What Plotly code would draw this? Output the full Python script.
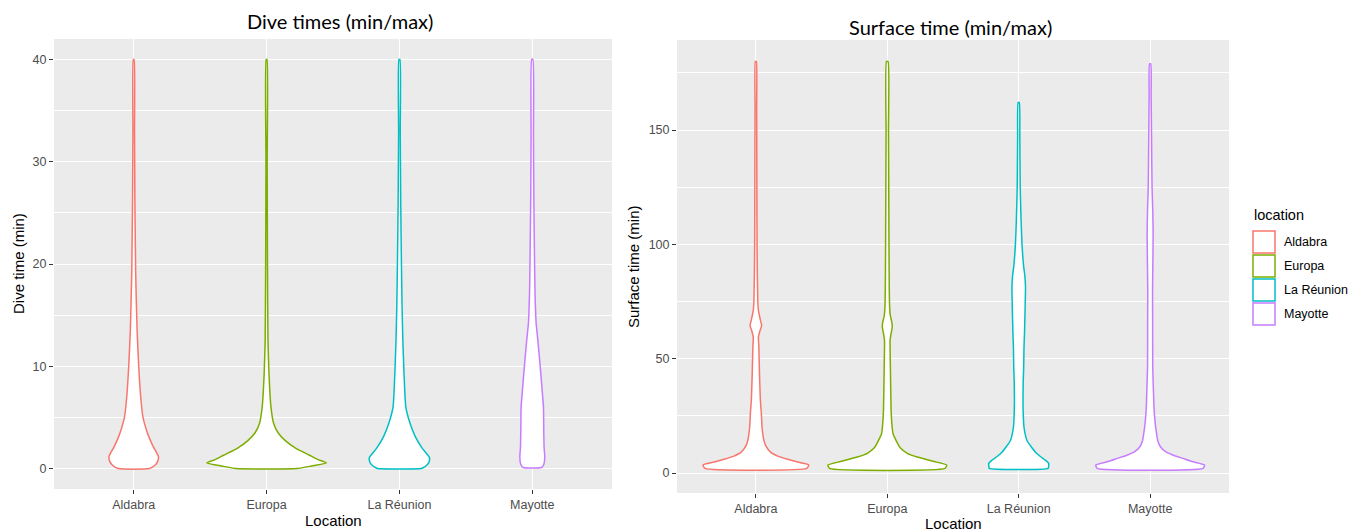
import plotly.graph_objects as go

# ---------------- data ----------------
locations = ["Aldabra", "Europa", "La Réunion", "Mayotte"]
colors = ["#F8766D", "#7CAE00", "#00BFC4", "#C77CFF"]
positions = [1, 2, 3, 4]

dive_ticks = [0, 10, 20, 30, 40]
surface_ticks = [0, 50, 100, 150]

# Violin outlines: value levels and scaled density (half-width)
dive_aldabra_y = [0, 0.3, 0.7, 1.2, 2.1, 2.9, 3.75, 5.0, 7.0, 10, 13.5, 19, 26, 33, 40]
dive_aldabra_d = [15.6, 21, 24, 24.7, 19.8, 16, 12.8, 9.3, 7, 5, 3.4, 2, 1.2, 0.8, 0.4]

dive_europa_y = [0, 0.25, 0.55, 0.9, 1.3, 2.0, 2.7, 3.5, 4.4, 6, 9.3, 12.6, 20, 30, 40]
dive_europa_d = [30.5, 45, 60, 51, 43, 29, 19, 11.5, 7.1, 4.4, 2.4, 1.4, 0.9, 0.6, 0.4]

dive_reunion_y = [0, 0.1, 0.3, 0.6, 1.1, 1.95, 3.1, 4.4, 6.0, 9.3, 12.6, 16, 20, 26, 33, 40]
dive_reunion_d = [21.8, 24, 27, 29.5, 30, 23.1, 16, 10.7, 6.4, 4.6, 3.4, 2.6, 2, 1.3, 0.8, 0.5]

dive_mayotte_y = [0.1, 0.4, 1.1, 2.1, 3.7, 6, 7.5, 9.3, 11, 12.6, 14.3, 17, 19.3, 26, 32.5, 40]
dive_mayotte_d = [9.1, 11.5, 12.5, 11.8, 11.5, 11.2, 10, 8.5, 7, 5.5, 3.8, 2.8, 2.4, 1.6, 1.2, 0.6]

surf_aldabra_y = [2.0, 3.5, 5.0, 6.0, 7.4, 9, 11.9, 14.4, 20, 26, 32, 44, 55, 59.5, 62, 64.5, 67, 71, 76, 90, 100, 130, 160, 180]
surf_aldabra_d = [51, 53, 40, 32, 22, 15, 10, 8, 6.2, 5.5, 4.5, 3.6, 3, 2.6, 4, 5.8, 4.5, 2.6, 1.9, 1.4, 1.2, 1.0, 0.8, 0.5]

surf_europa_y = [2.0, 3.5, 5.0, 5.7, 7, 8.6, 11, 13, 17.3, 22, 27.5, 46.5, 58, 61, 64, 66, 69, 72, 80, 100, 130, 150, 180]
surf_europa_d = [57.8, 59.5, 47, 41, 30, 20, 13, 10.3, 5.7, 4.5, 3.8, 3.1, 2.8, 3.8, 5.0, 4.5, 3, 2.4, 2.0, 1.7, 1.4, 1.2, 0.8]

surf_reunion_y = [2, 3, 4.2, 5.5, 7.1, 9, 11.5, 14, 16, 20, 25, 32, 40, 46.5, 55, 61, 70, 76, 81, 86, 91, 100, 110, 125, 147, 162]
surf_reunion_d = [29.5, 30, 30, 27, 22, 17, 12.5, 8.5, 7, 5.3, 4.6, 4.3, 4.5, 5, 5.3, 5.8, 6.3, 6.6, 6.8, 6.2, 4.8, 3.3, 2.4, 1.5, 1.1, 0.6]

surf_mayotte_y = [2, 3.5, 5, 6.4, 8, 9.3, 11.5, 14, 17.3, 22, 29, 32, 46, 65, 80, 95, 105, 115, 125, 147, 165, 179]
surf_mayotte_d = [53, 54.5, 42, 32.8, 22, 15.5, 10.3, 7.7, 6.4, 5, 3.8, 3.6, 2.6, 2.5, 2.4, 2.8, 3.0, 2.6, 1.9, 1.4, 1.0, 0.6]

dive_levels = [dive_aldabra_y, dive_europa_y, dive_reunion_y, dive_mayotte_y]
dive_density = [dive_aldabra_d, dive_europa_d, dive_reunion_d, dive_mayotte_d]
surf_levels = [surf_aldabra_y, surf_europa_y, surf_reunion_y, surf_mayotte_y]
surf_density = [surf_aldabra_d, surf_europa_d, surf_reunion_d, surf_mayotte_d]

# density -> x-axis units (category spacing)
DIVE_SCALE = 1 / 133.0
SURF_SCALE = 1 / 131.7

# ---------------- figure ----------------
W, H = 1367, 532
PAGE_OFFSET = 8  # default body margin of the html page


def px(xp, yp):
    """reference pixel position -> paper coordinates"""
    return (xp - PAGE_OFFSET) / W, 1 - (yp - PAGE_OFFSET) / H


def xdom(a, b):
    return [px(a, 0)[0], px(b, 0)[0]]


def ydom(top, bottom):
    return [px(0, bottom)[1], px(0, top)[1]]


fig = go.Figure()


def violin_outline(center, levels, dens, scale):
    right_x = [center + d * scale for d in dens]
    left_x = [center - d * scale for d in reversed(dens)]
    xs = right_x + left_x + [right_x[0]]
    ys = list(levels) + list(reversed(levels)) + [levels[0]]
    return xs, ys


for i, loc in enumerate(locations):
    xs, ys = violin_outline(positions[i], dive_levels[i], dive_density[i], DIVE_SCALE)
    fig.add_trace(go.Scatter(
        x=xs, y=ys, xaxis="x", yaxis="y", mode="lines", fill="toself",
        fillcolor="white", line=dict(color=colors[i], width=1.5, shape="spline", smoothing=0.5),
        name=loc, legendgroup=loc, showlegend=False, hoverinfo="name",
    ))

for i, loc in enumerate(locations):
    xs, ys = violin_outline(positions[i], surf_levels[i], surf_density[i], SURF_SCALE)
    fig.add_trace(go.Scatter(
        x=xs, y=ys, xaxis="x2", yaxis="y2", mode="lines", fill="toself",
        fillcolor="white", line=dict(color=colors[i], width=1.5, shape="spline", smoothing=0.5),
        name=loc, legendgroup=loc, showlegend=False, hoverinfo="name",
    ))

sans = "Liberation Sans, Arial, sans-serif"
tickfont = dict(family=sans, size=12.5, color="#4D4D4D")
axis_common = dict(
    showgrid=True, gridcolor="white", gridwidth=1.1, zeroline=False,
    ticks="outside", ticklen=4, tickwidth=1, tickcolor="#333333",
    tickfont=tickfont, showline=False, fixedrange=True,
)

fig.update_layout(
    width=W, height=H,
    margin=dict(l=0, r=0, t=0, b=0),
    paper_bgcolor="white",
    plot_bgcolor="#EBEBEB",
    showlegend=False,
    xaxis=dict(domain=xdom(54, 612), range=[0.4, 4.6], tickvals=positions,
               ticktext=locations, anchor="y", **axis_common),
    yaxis=dict(domain=ydom(39, 489), range=[-2, 42], tickvals=dive_ticks,
               anchor="x", minor=dict(dtick=5, tick0=0, showgrid=True, gridcolor="white", gridwidth=0.55),
               **axis_common),
    xaxis2=dict(domain=xdom(677, 1229), range=[0.4, 4.6], tickvals=positions,
                ticktext=locations, anchor="y2", **axis_common),
    yaxis2=dict(domain=ydom(40, 493), range=[-8.75, 189.4], tickvals=surface_ticks,
                anchor="x2", minor=dict(dtick=25, tick0=0, showgrid=True, gridcolor="white", gridwidth=0.55),
                **axis_common),
)

title_font = dict(family="Lato, Carlito, sans-serif", size=20, color="black")
axis_title_font = dict(family=sans, size=15, color="black")

annotations = []
for text, (xp, yp), font, rot in [
    ("Dive times (min/max)", (340, 21), title_font, 0),
    ("Surface time (min/max)", (950, 27), title_font, 0),
    ("Location", (333, 520), axis_title_font, 0),
    ("Location", (953, 523), axis_title_font, 0),
    ("Dive time (min)", (18, 264), axis_title_font, -90),
    ("Surface time (min)", (633, 267), axis_title_font, -90),
]:
    xx, yy = px(xp, yp)
    annotations.append(dict(text=text, x=xx, y=yy, xref="paper", yref="paper",
                            xanchor="center", yanchor="middle", showarrow=False,
                            font=font, textangle=rot))

# legend (ggplot-style keys: white box with coloured outline)
lx, ly = px(1252, 215)
annotations.append(dict(text="location", x=lx, y=ly, xref="paper", yref="paper",
                        xanchor="left", yanchor="middle", showarrow=False,
                        font=dict(family=sans, size=14.5, color="black")))
shapes = []
KEY_TOP, KEY_SIZE, KEY_STEP, KEY_LEFT = 231, 22, 24, 1253
for i, loc in enumerate(locations):
    top = KEY_TOP + i * KEY_STEP
    x0, y1 = px(KEY_LEFT, top)
    x1, y0 = px(KEY_LEFT + KEY_SIZE, top + KEY_SIZE)
    shapes.append(dict(type="rect", xref="paper", yref="paper", x0=x0, x1=x1, y0=y0, y1=y1,
                       fillcolor="white", line=dict(color=colors[i], width=1.5), layer="above"))
    tx, ty = px(KEY_LEFT + KEY_SIZE + 7, top + KEY_SIZE / 2)
    annotations.append(dict(text=loc, x=tx, y=ty, xref="paper", yref="paper",
                            xanchor="left", yanchor="middle", showarrow=False,
                            font=dict(family=sans, size=12.5, color="black")))

fig.update_layout(annotations=annotations, shapes=shapes)

fig.write_html("out.html")
